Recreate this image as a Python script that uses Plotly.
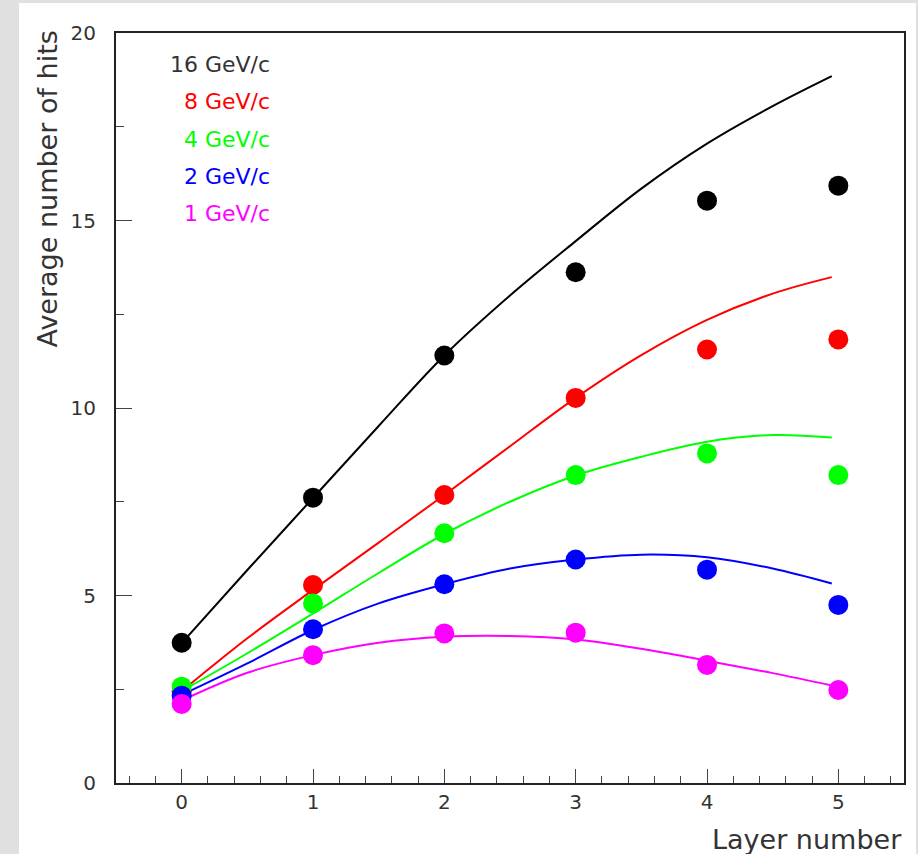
import plotly.graph_objects as go

# ---- data ----
layers = [0, 1, 2, 3, 4, 5]
hits_16 = [3.74, 7.61, 11.40, 13.62, 15.53, 15.93]
hits_8 = [2.45, 5.28, 7.68, 10.27, 11.56, 11.83]
hits_4 = [2.57, 4.79, 6.66, 8.21, 8.79, 8.21]
hits_2 = [2.33, 4.10, 5.30, 5.96, 5.69, 4.75]
hits_1 = [2.11, 3.41, 3.99, 4.01, 3.15, 2.48]

curve_x = [0, 0.5, 1, 1.5, 2, 2.5, 3, 3.5, 4, 4.5, 4.95]
curve_16 = [3.73, 5.68, 7.60, 9.52, 11.40, 13.00, 14.45, 15.85, 17.05, 18.05, 18.85]
curve_8 = [2.45, 3.86, 5.15, 6.41, 7.68, 8.98, 10.27, 11.41, 12.35, 13.05, 13.49]
curve_4 = [2.45, 3.46, 4.52, 5.60, 6.64, 7.50, 8.20, 8.70, 9.10, 9.28, 9.21]
curve_2 = [2.35, 3.19, 4.08, 4.79, 5.30, 5.72, 5.96, 6.09, 6.02, 5.72, 5.32]
curve_1 = [2.20, 2.94, 3.41, 3.74, 3.90, 3.92, 3.83, 3.58, 3.26, 2.93, 2.60]

labels = ["16 GeV/c", "8 GeV/c", "4 GeV/c", "2 GeV/c", "1 GeV/c"]
colors = ["#000000", "#ff0000", "#00ff00", "#0000ff", "#ff00ff"]
points = [hits_16, hits_8, hits_4, hits_2, hits_1]
curves = [curve_16, curve_8, curve_4, curve_2, curve_1]

FONT = "DejaVu Sans"
TXT = "#333333"

fig = go.Figure()

for c, col in zip(curves, colors):
    fig.add_trace(go.Scatter(x=curve_x, y=c, mode="lines",
                             line=dict(color=col, width=2, shape="spline", smoothing=1.0),
                             showlegend=False, hoverinfo="skip"))

for p, col, lab in zip(points, colors, labels):
    fig.add_trace(go.Scatter(x=layers, y=p, mode="markers", name=lab,
                             marker=dict(color=col, size=20, line=dict(width=0)),
                             showlegend=False))

# legend as text
L, R, T, B = 116, 904, 33, 783
W, H = R - L, B - T
for i, (lab, col) in enumerate(zip(labels, colors)):
    py = 64 + i * 37.5
    fig.add_annotation(text=lab, xref="paper", yref="paper",
                       x=(272 - L) / W, y=(B - py) / H,
                       xanchor="right", yanchor="middle", showarrow=False,
                       font=dict(family=FONT, size=22, color=(TXT if col == "#000000" else col)))

# axis titles
fig.add_annotation(text="Average number of hits", xref="paper", yref="paper",
                   x=(47 - L) / W, y=(B - 29) / H, textangle=-90,
                   xanchor="center", yanchor="top", showarrow=False,
                   font=dict(family=FONT, size=27, color=TXT))
fig.add_annotation(text="Layer number", xref="paper", yref="paper",
                   x=(904 - L) / W, y=(B - 839) / H,
                   xanchor="right", yanchor="middle", showarrow=False,
                   font=dict(family=FONT, size=27, color=TXT))

# white panel over textured-grey background
fig.add_shape(type="rect", xref="paper", yref="paper", layer="below",
              x0=(19 - L) / W, x1=(916 - L) / W, y0=-0.2, y1=(B - 3) / H,
              fillcolor="white", line=dict(width=0))

fig.update_layout(
    width=918, height=854,
    margin=dict(l=L, r=918 - R, t=T, b=854 - B),
    paper_bgcolor="#e0e0e0", plot_bgcolor="white",
    showlegend=False,
    font=dict(family=FONT, color=TXT),
)
fig.update_xaxes(range=[-0.5, 5.5], tickmode="array", tickvals=layers,
                 ticks="inside", ticklen=14, tickwidth=1, tickcolor="#444",
                 minor=dict(dtick=0.2, tick0=0, ticks="inside", ticklen=7, tickcolor="#444", tickwidth=1, showgrid=False),
                 showgrid=False, zeroline=False, showline=True, linewidth=2, linecolor="#222",
                 mirror=True, tickfont=dict(family=FONT, size=20, color=TXT))
fig.update_yaxes(range=[0, 20], tickmode="array", tickvals=[0, 5, 10, 15, 20],
                 ticks="inside", ticklen=16, tickwidth=1, tickcolor="#444",
                 minor=dict(dtick=2.5, tick0=0, ticks="inside", ticklen=8, tickcolor="#444", tickwidth=1, showgrid=False),
                 showgrid=False, zeroline=False, showline=True, linewidth=2, linecolor="#222",
                 mirror=True, ticklabelstandoff=14, tickfont=dict(family=FONT, size=20, color=TXT))

fig.write_html("out.html", config={"displayModeBar": False},
               post_script="document.body.style.margin='0px';document.body.style.overflow='hidden';")
